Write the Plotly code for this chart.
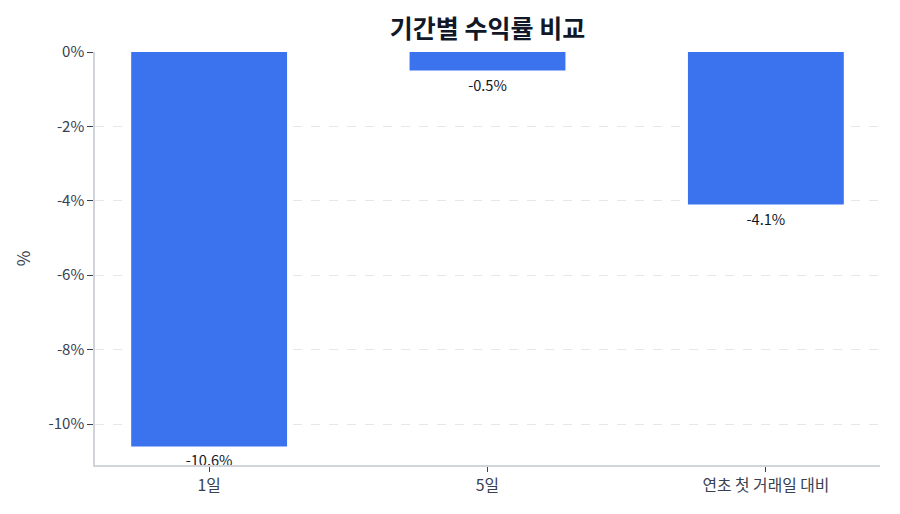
import plotly.graph_objects as go

periods = ["1일", "5일", "연초 첫 거래일 대비"]
returns = [-10.6, -0.5, -4.1]
labels = ["-10.6%", "-0.5%", "-4.1%"]
y_ticks = [0, -2, -4, -6, -8, -10]
y_tick_text = ["0%", "-2%", "-4%", "-6%", "-8%", "-10%"]

font_family = "Noto Sans CJK KR"

fig = go.Figure()
fig.add_trace(go.Bar(
    x=periods,
    y=returns,
    text=labels,
    textposition="outside",
    constraintext="none",
    textfont=dict(family=font_family, size=14.6, color="#111827"),
    marker=dict(color="#3B73EE", line=dict(color="#3B73EE", width=0)),
    width=0.56,
    cliponaxis=False,
))

# page body has an 8px margin, so margins are shifted to land the plot where the reference has it
fig.update_layout(
    title=dict(text="<b>기간별 수익률 비교</b>", x=0.5, xref="paper", y=0.959, yanchor="middle",
               font=dict(family=font_family, size=25, color="#111827")),
    width=900, height=514,
    margin=dict(l=87, r=28, t=44, b=57),
    plot_bgcolor="white",
    paper_bgcolor="white",
    font=dict(family=font_family, size=15.5, color="#374151"),
    showlegend=False,
)

fig.update_xaxes(
    range=[-0.41, 2.41],
    showline=True, linecolor="#d1d5db", linewidth=1.5,
    ticks="outside", ticklen=5, tickcolor="#374151",
    tickfont=dict(size=15.8, color="#374151"),
    showgrid=False,
)
fig.update_yaxes(
    range=[-11.1, 0],
    tickvals=y_ticks, ticktext=y_tick_text,
    showline=True, linecolor="#d1d5db", linewidth=1.5,
    ticks="outside", ticklen=6, tickcolor="#374151",
    tickfont=dict(size=15, color="#374151"),
    showgrid=True, gridcolor="#e5e7eb", griddash="dash", gridwidth=1,
    zeroline=False,
    title=dict(text="%", font=dict(size=17, color="#374151"), standoff=14),
)

fig.write_html("out.html")
